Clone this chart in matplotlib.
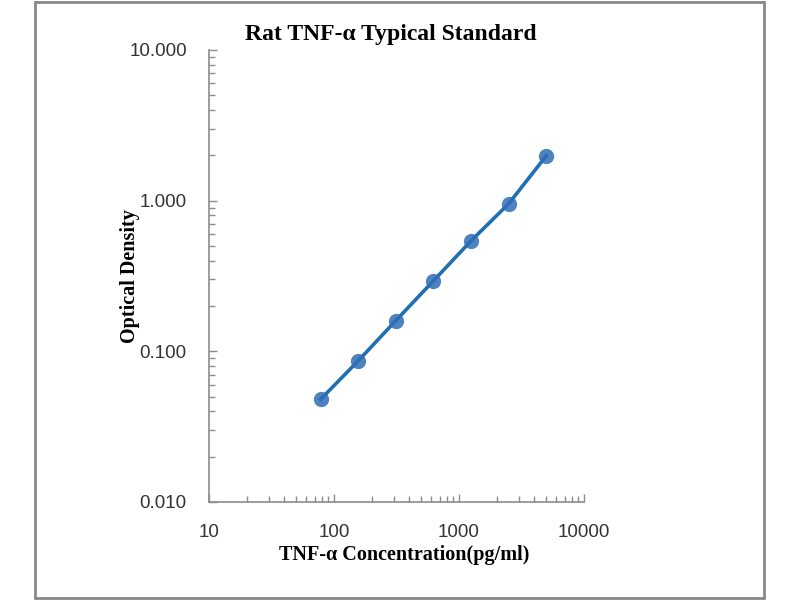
import numpy as np
import matplotlib.pyplot as plt
from matplotlib.patches import Rectangle
from matplotlib.ticker import LogLocator, NullFormatter, FixedFormatter, FixedLocator

# standard curve data
conc = [78.125, 156.25, 312.5, 625, 1250, 2500, 5000]
od = [0.048, 0.0865, 0.160, 0.294, 0.542, 0.955, 1.99]

x_ticks = [10, 100, 1000, 10000]
x_labels = ['10', '100', '1000', '10000']
y_ticks = [0.01, 0.1, 1, 10]
y_labels = ['0.010', '0.100', '1.000', '10.000']

fig = plt.figure(figsize=(8, 6), dpi=100)
ax = fig.add_axes([209 / 800, 98 / 600, 375 / 800, 452 / 600])

ax.plot(conc, od, '-', color='#1F6FB2', linewidth=2.6, zorder=2)
ax.plot(conc, od, 'o', color='#2F6DB5', alpha=0.85, markersize=11,
        markeredgewidth=0, zorder=3)

ax.set_xscale('log')
ax.set_yscale('log')
ax.set_xlim(10, 10000)
ax.set_ylim(0.01, 10)

ax.xaxis.set_major_locator(FixedLocator(x_ticks))
ax.xaxis.set_major_formatter(FixedFormatter(x_labels))
ax.yaxis.set_major_locator(FixedLocator(y_ticks))
ax.yaxis.set_major_formatter(FixedFormatter(y_labels))
ax.xaxis.set_minor_locator(LogLocator(base=10, subs=np.arange(2, 10)))
ax.yaxis.set_minor_locator(LogLocator(base=10, subs=np.arange(2, 10)))
ax.xaxis.set_minor_formatter(NullFormatter())
ax.yaxis.set_minor_formatter(NullFormatter())

for side in ['top', 'right']:
    ax.spines[side].set_visible(False)
for side in ['left', 'bottom']:
    ax.spines[side].set_color('#8c8c8c')
    ax.spines[side].set_linewidth(1.2)

ax.tick_params(which='major', direction='in', length=6, width=1, color='#8c8c8c',
               labelsize=13.5, labelcolor='#333333')
ax.tick_params(axis='y', which='major', pad=16)
ax.tick_params(axis='x', which='major', pad=16)
ax.tick_params(which='minor', direction='in', length=4, width=1, color='#8c8c8c')
for lbl in ax.get_xticklabels() + ax.get_yticklabels():
    lbl.set_family('Liberation Sans')

ax.set_title('Rat TNF-α Typical Standard', family='Liberation Serif',
             fontweight='bold', fontsize=17, pad=7, x=0.485)
ax.set_xlabel('TNF-α Concentration(pg/ml)', family='Liberation Serif',
              fontweight='bold', fontsize=14.5, labelpad=3, x=0.52)
ax.set_ylabel('Optical Density', family='Liberation Serif',
              fontweight='bold', fontsize=14.5, labelpad=-8)

fig.patches.append(Rectangle((35 / 800, 2 / 600), 729 / 800, 596 / 600,
                             transform=fig.transFigure, fill=False,
                             edgecolor='#888888', linewidth=2))

fig.savefig('out.png', dpi=100)
